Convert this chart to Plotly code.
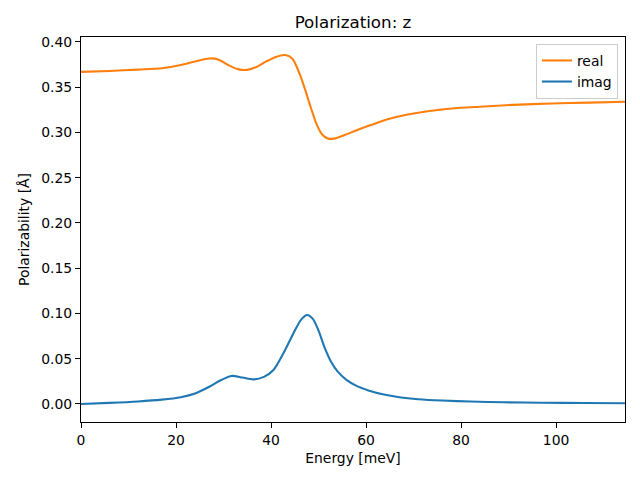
import plotly.graph_objects as go

real_x = [0, 6, 12, 17, 21, 24, 27, 29, 31, 33, 35, 37, 39, 41, 43, 44.5, 46, 47.2, 48.4, 49.6, 50.8, 52, 53.5, 55.5, 58, 61, 64.5, 68.5, 73, 78, 84, 91, 99, 107, 114.5]
real_y = [0.367, 0.368, 0.3695, 0.371, 0.3745, 0.3785, 0.3818, 0.3805, 0.3745, 0.3700, 0.3692, 0.3725, 0.3785, 0.3835, 0.3856, 0.3815, 0.365, 0.347, 0.327, 0.309, 0.2975, 0.2932, 0.2935, 0.2972, 0.3025, 0.3082, 0.3145, 0.3195, 0.3235, 0.3265, 0.3285, 0.3305, 0.332, 0.333, 0.334]

imag_x = [0, 6, 12, 17, 21, 24, 27, 29.5, 31.7, 34, 36.3, 38.5, 40.5, 42.6, 44.7, 46.3, 47.6, 48.8, 50, 51.3, 52.6, 54, 55.8, 58, 60.5, 63.5, 67, 71, 76, 82, 89, 97, 106, 114.5]
imag_y = [0.000, 0.0012, 0.0028, 0.0048, 0.0075, 0.0115, 0.019, 0.0265, 0.031, 0.0292, 0.0272, 0.030, 0.0376, 0.056, 0.078, 0.093, 0.0983, 0.094, 0.081, 0.062, 0.047, 0.036, 0.027, 0.020, 0.015, 0.0108, 0.0075, 0.0053, 0.0038, 0.0027, 0.0019, 0.0014, 0.0011, 0.0008]

FONT = "DejaVu Sans"
W, H = 632, 472  # page body has an 8px margin

fig = go.Figure()
fig.add_trace(go.Scatter(x=real_x, y=real_y, mode="lines", name="real",
                         line=dict(color="#ff7f0e", width=2.1, shape="spline", smoothing=0.8)))
fig.add_trace(go.Scatter(x=imag_x, y=imag_y, mode="lines", name="imag",
                         line=dict(color="#1f77b4", width=2.1, shape="spline", smoothing=0.8)))

axis_common = dict(showline=True, linecolor="black", linewidth=1.1, mirror=True,
                   ticks="outside", ticklen=5, tickwidth=1.1, tickcolor="black",
                   showgrid=False, zeroline=False,
                   tickfont=dict(family=FONT, size=13.9, color="black"))

fig.update_layout(
    width=W, height=H,
    paper_bgcolor="white", plot_bgcolor="white",
    margin=dict(l=73, r=15, t=29, b=58, autoexpand=False),
    title=dict(text="Polarization: z", x=345 / W, xanchor="center",
               y=1 - 14 / H, yanchor="middle",
               font=dict(family=FONT, size=16.7, color="black")),
    xaxis=dict(range=[0, 114.5], dtick=20, tick0=0,
               title=dict(text="Energy [meV]", font=dict(family=FONT, size=13.9, color="black"), standoff=6),
               **axis_common),
    yaxis=dict(range=[-0.0199, 0.4055], dtick=0.05, tick0=0, tickformat=".2f",
               title=dict(text="Polarizability [Å]", font=dict(family=FONT, size=13.9, color="black"), standoff=8),
               **axis_common),
    legend=dict(x=0.987, y=0.982, xanchor="right", yanchor="top",
                bordercolor="#cccccc", borderwidth=1, bgcolor="rgba(255,255,255,0.8)",
                font=dict(family=FONT, size=13.9, color="black")),
    showlegend=True,
)

fig.write_html("out.html")
